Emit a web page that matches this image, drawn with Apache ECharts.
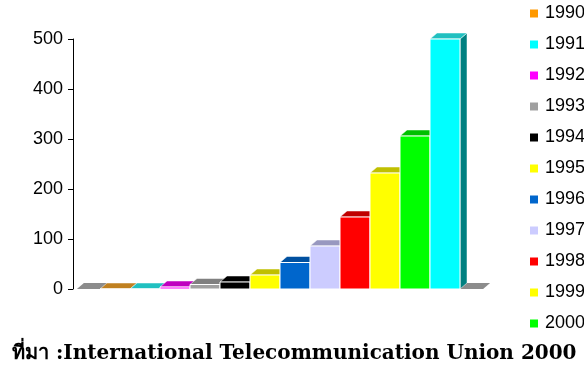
<!DOCTYPE html>
<html><head><meta charset="utf-8">
<script src="https://cdn.jsdelivr.net/npm/echarts@6/dist/echarts.min.js"></script>
<style>html,body{margin:0;padding:0;background:#fff}#c{width:584px;height:365px}</style>
</head><body><div id="c"></div>
<script>
var years = ['1990','1991','1992','1993','1994','1995','1996','1997','1998','1999','2000','2001'];
var values = [0, 0, 4, 9, 14, 28, 53, 86, 144, 232, 306, 500];
var frontColors = ['#ff9900','#00ffff','#ff00ff','#a0a0a0','#000000','#ffff00','#0066cc','#ccccff','#ff0000','#ffff00','#00ff00','#00ffff'];
var topColors = ['#c08020','#20c0c0','#c000c0','#808080','#000000','#c0c000','#0050a0','#9898c0','#c00000','#c0c000','#00c000','#20c0c0'];
var sideColors = ['#805010','#008080','#800080','#606060','#000000','#808000','#003070','#7070a0','#800000','#808000','#008000','#008080'];
var legendYears = years.slice(0, 11);
var yTicks = {min: 0, max: 500, interval: 100};
var sourceText = 'ที่มา :International Telecommunication Union 2000';

var DX = 7, DY = 6;
function barRender(idx) {
  return function (params, api) {
    var i = api.value(0), v = api.value(1);
    var p0 = api.coord([i, 0]), p1 = api.coord([i, v]);
    var band = api.size([1, 0])[0];
    var x0 = p0[0] - band / 2, x1 = p0[0] + band / 2;
    var yb = p0[1], yt = p1[1];
    return {
      type: 'group',
      children: [
        {type: 'polygon', shape: {points: [[x1, yt], [x1 + DX, yt - DY], [x1 + DX, yb - DY], [x1, yb]]},
         style: {fill: sideColors[idx], stroke: '#fff', lineWidth: 0.5}},
        {type: 'polygon', shape: {points: [[x0, yt], [x1, yt], [x1 + DX, yt - DY], [x0 + DX, yt - DY]]},
         style: {fill: topColors[idx], stroke: '#fff', lineWidth: 0.5}},
        {type: 'rect', shape: {x: x0, y: yt, width: band, height: yb - yt},
         style: {fill: frontColors[idx], stroke: '#fff', lineWidth: 1}}
      ]
    };
  };
}
function floorRender(params, api) {
  var a = api.coord([0, 0]), b = api.coord([years.length - 1, 0]);
  var band = api.size([1, 0])[0];
  var ext = band * 0.77;
  var xl = a[0] - band / 2 - ext, xr = b[0] + band / 2 + ext;
  var y = a[1];
  return {type: 'polygon', shape: {points: [[xl, y], [xr, y], [xr + DX, y - DY], [xl + DX, y - DY]]},
    style: {fill: '#8c8c8c'}};
}

var series = [{
  type: 'custom', name: 'floor', renderItem: floorRender, data: [[0, 0]], silent: true, z: 1
}];
years.forEach(function (y, idx) {
  series.push({
    type: 'custom', name: y, renderItem: barRender(idx),
    itemStyle: {color: frontColors[idx]},
    data: [[idx, values[idx]]], z: 2
  });
});

var chart = echarts.init(document.getElementById('c'), null, {renderer: 'canvas'});
chart.setOption({
  animation: false,
  backgroundColor: '#fff',
  grid: {left: 100, top: 39, width: 360, height: 250},
  xAxis: {type: 'category', data: years, show: false},
  yAxis: {
    type: 'value', min: yTicks.min, max: yTicks.max, interval: yTicks.interval,
    offset: 27,
    axisLine: {show: true, lineStyle: {color: '#000', width: 1}},
    axisTick: {show: true, inside: false, length: 5, lineStyle: {color: '#000'}},
    splitLine: {show: false},
    axisLabel: {color: '#000', fontSize: 18, fontFamily: 'Liberation Sans', margin: 10}
  },
  legend: {
    orient: 'vertical', left: 530, top: 4.5, padding: 0,
    data: legendYears, icon: 'rect', itemWidth: 8, itemHeight: 8, itemGap: 13,
    textStyle: {color: '#000', fontSize: 18, fontFamily: 'Liberation Sans', lineHeight: 18, padding: [0,0,0,2]},
    selectedMode: false
  },
  graphic: [{
    type: 'text', left: 12, top: 344,
    style: {text: sourceText, fill: '#000', font: 'bold 20px "DejaVu Serif"'}
  }],
  series: series
});
</script></body></html>
